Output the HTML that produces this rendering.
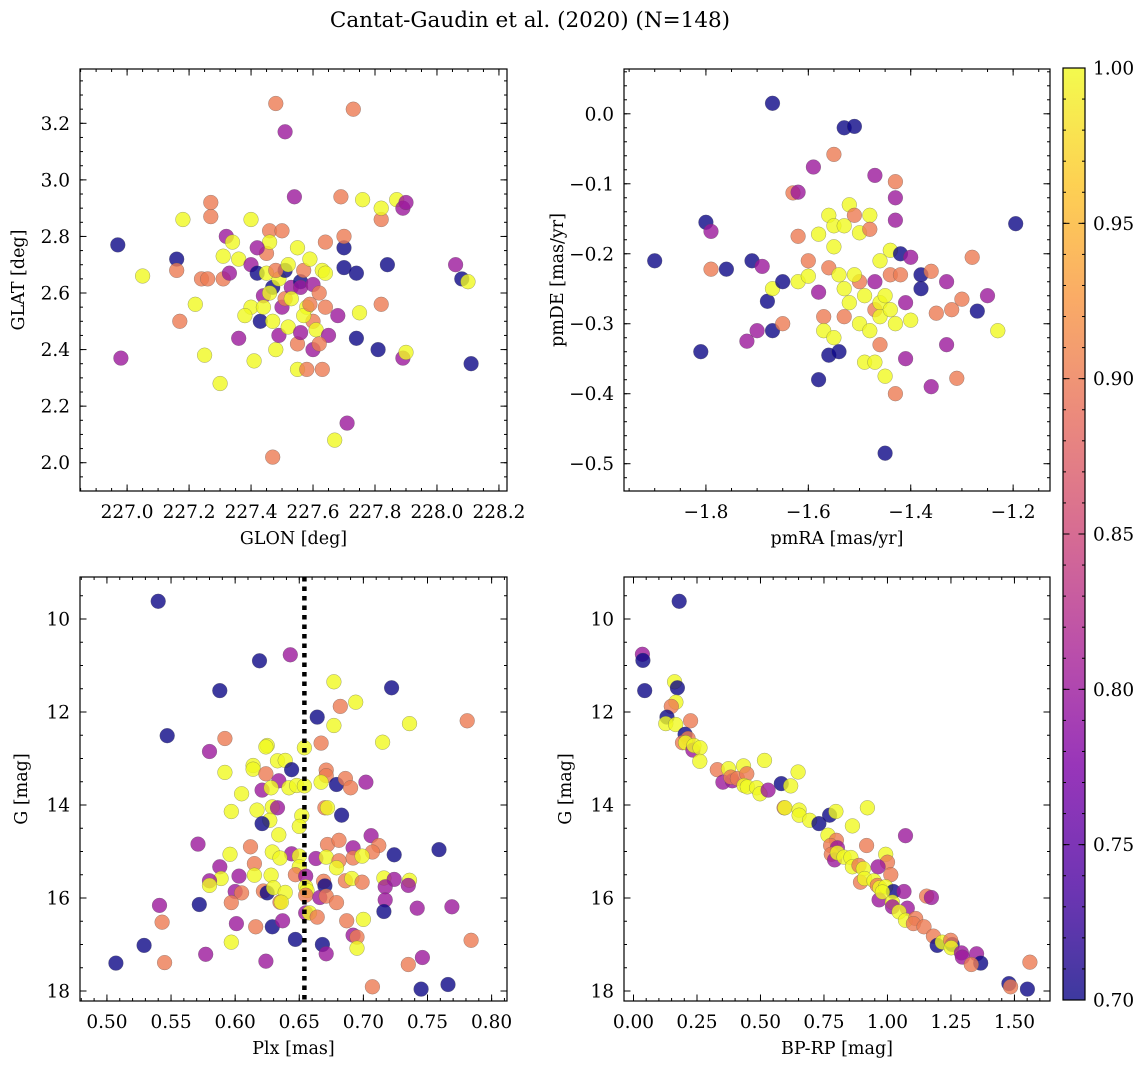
<!DOCTYPE html>
<html><head><meta charset="utf-8"><style>
body{margin:0;background:#fff;width:1148px;height:1068px;overflow:hidden}
svg{display:block;font-family:"DejaVu Serif","Liberation Serif",serif}
</style></head><body>
<svg id="chart" width="1148" height="1068" viewBox="0 0 1148 1068" xmlns="http://www.w3.org/2000/svg">
<text x="530" y="27" font-size="21.5" text-anchor="middle">Cantat-Gaudin et al. (2020) (N=148)</text>
</svg>
<script>
// ---------- data ----------
const p1x=[226.97,226.98,227.05,227.16,227.16,227.17,227.18,227.22,227.24,227.25,227.26,227.27,227.27,227.30,227.31,227.32,227.31,227.33,227.34,227.36,227.36,227.40,227.40,227.40,227.41,227.42,227.43,227.44,227.44,227.45,227.46,227.46,227.47,227.47,227.47,227.48,227.48,227.49,227.49,227.50,227.50,227.51,227.51,227.51,227.52,227.53,227.54,227.55,227.55,227.56,227.56,227.57,227.58,227.58,227.59,227.60,227.60,227.61,227.62,227.63,227.63,227.64,227.64,227.64,227.65,227.67,227.68,227.69,227.70,227.70,227.70,227.71,227.73,227.74,227.74,227.75,227.76,227.81,227.82,227.82,227.82,227.84,227.87,227.89,227.90,227.89,227.90,228.06,228.08,228.10,228.11,227.42,227.46,227.53,227.55,227.57,227.60,227.62,227.45,227.38,227.48,227.52,227.56,227.59];
const p1y=[2.77,2.37,2.66,2.72,2.68,2.50,2.86,2.56,2.65,2.38,2.65,2.87,2.92,2.28,2.73,2.80,2.65,2.67,2.78,2.44,2.72,2.86,2.70,2.55,2.36,2.67,2.50,2.59,2.55,2.74,2.82,2.78,2.62,2.50,2.02,3.27,2.40,2.65,2.45,2.82,2.55,3.17,2.68,2.58,2.48,2.62,2.94,2.33,2.76,2.64,2.62,2.68,2.55,2.33,2.72,2.63,2.50,2.47,2.60,2.33,2.68,2.78,2.67,2.55,2.45,2.08,2.52,2.94,2.76,2.69,2.80,2.14,3.25,2.67,2.44,2.53,2.93,2.40,2.86,2.56,2.90,2.70,2.93,2.90,2.92,2.37,2.39,2.70,2.65,2.64,2.35,2.76,2.60,2.58,2.42,2.52,2.40,2.42,2.67,2.52,2.68,2.70,2.46,2.56];
const p1c=[0.7,0.8,1,0.7,0.9,0.9,1,1,0.9,1,0.9,0.9,0.9,1,1,0.8,0.9,0.8,1,0.8,1,1,0.8,1,1,0.7,0.7,0.8,1,0.9,0.9,1,0.7,1,0.9,0.9,1,1,0.8,0.9,0.8,0.8,0.7,0.9,1,0.8,0.8,1,1,0.7,0.8,0.9,1,0.9,1,0.8,0.9,1,0.9,0.9,1,0.9,1,0.9,0.8,1,0.8,0.9,0.7,0.7,0.9,0.8,0.9,0.7,0.7,1,1,0.7,0.9,0.9,1,0.7,1,0.8,0.8,0.8,1,0.8,0.7,1,0.7,0.8,1,1,0.9,1,0.8,0.9,1,1,0.9,1,0.8,0.9];

const p2x=[-1.90,-1.81,-1.80,-1.79,-1.79,-1.76,-1.72,-1.70,-1.71,-1.69,-1.68,-1.67,-1.67,-1.67,-1.65,-1.65,-1.63,-1.62,-1.62,-1.62,-1.60,-1.60,-1.59,-1.58,-1.58,-1.58,-1.57,-1.57,-1.56,-1.56,-1.56,-1.55,-1.55,-1.55,-1.54,-1.53,-1.53,-1.52,-1.52,-1.51,-1.51,-1.50,-1.50,-1.50,-1.49,-1.48,-1.48,-1.47,-1.47,-1.47,-1.46,-1.46,-1.46,-1.45,-1.45,-1.44,-1.44,-1.43,-1.43,-1.43,-1.43,-1.43,-1.42,-1.42,-1.41,-1.41,-1.40,-1.40,-1.38,-1.38,-1.36,-1.36,-1.35,-1.33,-1.33,-1.32,-1.31,-1.30,-1.28,-1.27,-1.25,-1.23,-1.195,-1.54,-1.51,-1.49,-1.46,-1.44,-1.45,-1.53,-1.48,-1.47,-1.55,-1.53];
const p2y=[-0.21,-0.34,-0.155,-0.168,-0.222,-0.222,-0.325,-0.31,-0.21,-0.218,-0.268,-0.31,0.015,-0.25,-0.30,-0.24,-0.113,-0.112,-0.175,-0.24,-0.232,-0.21,-0.076,-0.38,-0.172,-0.255,-0.29,-0.31,-0.345,-0.22,-0.145,-0.058,-0.19,-0.32,-0.34,-0.02,-0.25,-0.13,-0.27,-0.018,-0.145,-0.17,-0.24,-0.30,-0.355,-0.145,-0.165,-0.28,-0.088,-0.355,-0.33,-0.27,-0.21,-0.485,-0.375,-0.23,-0.195,-0.30,-0.40,-0.152,-0.12,-0.097,-0.20,-0.23,-0.27,-0.35,-0.295,-0.205,-0.25,-0.23,-0.39,-0.225,-0.285,-0.24,-0.33,-0.28,-0.378,-0.265,-0.205,-0.282,-0.26,-0.31,-0.157,-0.23,-0.23,-0.26,-0.29,-0.28,-0.26,-0.29,-0.31,-0.24,-0.16,-0.16];
const p2c=[0.7,0.7,0.7,0.8,0.9,0.7,0.8,0.8,0.7,0.8,0.7,0.7,0.7,1,0.9,0.7,0.9,0.8,0.9,1,1,0.9,0.8,0.7,1,0.8,0.9,1,0.7,0.9,1,0.9,1,1,0.7,0.7,1,1,1,0.7,0.9,1,0.9,1,1,1,0.9,0.9,0.8,1,0.9,1,1,0.7,1,0.9,1,1,0.9,0.8,0.8,0.9,0.7,0.9,0.8,0.8,1,0.8,0.7,0.7,0.8,0.9,0.9,0.8,0.8,0.9,0.9,0.9,0.9,0.7,0.8,1,0.7,1,1,1,1,1,1,0.9,1,0.8,1,1];

const p3x=[0.540,0.643,0.619,0.588,0.722,0.677,0.694,0.682,0.664,0.677,0.736,0.781,0.547,0.592,0.715,0.667,0.580,0.625,0.624,0.654,0.633,0.639,0.614,0.614,0.592,0.644,0.624,0.671,0.671,0.634,0.667,0.679,0.686,0.690,0.702,0.621,0.628,0.642,0.648,0.654,0.605,0.597,0.617,0.629,0.633,0.670,0.672,0.683,0.627,0.621,0.652,0.650,0.634,0.571,0.612,0.629,0.644,0.650,0.635,0.596,0.672,0.681,0.706,0.712,0.707,0.692,0.692,0.699,0.724,0.759,0.663,0.671,0.681,0.679,0.615,0.588,0.650,0.647,0.655,0.628,0.615,0.603,0.589,0.580,0.580,0.669,0.670,0.686,0.691,0.699,0.716,0.724,0.717,0.736,0.735,0.600,0.605,0.622,0.625,0.630,0.639,0.655,0.656,0.655,0.666,0.671,0.679,0.717,0.716,0.635,0.636,0.597,0.572,0.541,0.543,0.601,0.616,0.629,0.637,0.655,0.658,0.664,0.687,0.700,0.742,0.769,0.784,0.647,0.668,0.692,0.695,0.695,0.671,0.597,0.577,0.529,0.507,0.545,0.624,0.735,0.746,0.707,0.745,0.766];
const p3y=[9.62,10.77,10.90,11.54,11.48,11.35,11.79,11.88,12.11,12.29,12.25,12.19,12.51,12.57,12.65,12.67,12.85,12.72,12.75,12.77,13.05,13.04,13.15,13.23,13.30,13.24,13.33,13.25,13.37,13.48,13.51,13.56,13.43,13.63,13.51,13.68,13.63,13.63,13.58,13.59,13.76,14.14,14.11,14.04,14.06,14.06,14.06,14.22,14.33,14.40,14.23,14.46,14.64,14.84,14.90,15.01,15.05,15.10,15.14,15.06,14.85,14.76,14.66,14.87,15.01,14.92,15.14,15.10,15.07,14.96,15.15,15.12,15.20,15.35,15.26,15.33,15.33,15.50,15.53,15.51,15.51,15.53,15.58,15.63,15.73,15.64,15.74,15.63,15.58,15.66,15.57,15.60,15.76,15.62,15.73,15.86,15.89,15.85,15.89,15.78,15.88,15.76,15.84,15.94,15.99,15.96,16.10,16.04,16.29,16.09,16.09,16.10,16.14,16.16,16.52,16.55,16.62,16.62,16.49,16.32,16.32,16.41,16.49,16.46,16.22,16.19,16.91,16.89,17.00,16.80,16.84,17.08,17.20,16.95,17.21,17.02,17.40,17.39,17.36,17.43,17.28,17.91,17.96,17.86];
const p3c=[0.7,0.8,0.7,0.7,0.7,1,1,0.9,0.7,1,1,0.9,0.7,0.9,1,0.9,0.8,1,1,1,1,1,1,1,1,0.7,0.9,0.9,0.9,0.8,1,0.7,0.9,0.9,0.8,0.8,1,1,1,1,1,1,1,1,0.8,0.9,1,0.7,1,0.7,1,1,1,0.8,0.9,1,0.8,1,1,1,0.9,0.9,0.8,0.9,0.9,0.8,0.9,1,0.7,0.7,0.8,1,0.9,1,0.9,0.8,1,0.9,0.8,1,1,0.8,1,0.8,1,0.9,0.7,0.9,1,0.9,1,0.8,0.8,1,0.8,0.8,0.9,0.9,0.7,1,1,1,1,0.9,0.8,0.9,0.9,0.8,0.7,0.9,1,0.9,0.7,0.8,0.9,0.8,0.9,0.7,0.8,0.8,1,0.9,0.9,1,0.8,0.8,0.9,0.7,0.7,0.8,0.9,1,0.8,1,0.8,0.7,0.7,0.9,0.8,0.9,0.8,0.9,0.7,0.7];

const p4x=[0.180,0.035,0.037,0.044,0.162,0.173,0.167,0.149,0.132,0.127,0.166,0.225,0.203,0.215,0.193,0.205,0.234,0.238,0.262,0.261,0.330,0.374,0.352,0.389,0.383,0.409,0.433,0.446,0.435,0.448,0.485,0.498,0.530,0.516,0.582,0.619,0.648,0.593,0.596,0.652,0.652,0.694,0.730,0.772,0.797,0.921,0.862,0.766,0.799,1.071,0.776,0.803,0.779,0.792,0.803,0.829,0.856,0.918,0.993,1.000,0.963,1.013,0.862,0.888,0.905,0.894,0.910,0.947,0.960,0.970,0.993,1.023,1.065,0.967,0.980,1.019,1.020,1.078,1.046,1.071,1.111,1.102,1.144,1.154,1.173,1.181,1.196,1.216,1.255,1.249,1.251,1.291,1.295,1.351,1.367,1.330,1.561,1.478,1.485,1.551];
const p4y=[9.62,10.76,10.89,11.54,11.35,11.48,11.79,11.88,12.11,12.25,12.27,12.19,12.48,12.57,12.66,12.66,12.82,12.72,12.77,13.06,13.24,13.22,13.51,13.48,13.40,13.43,13.16,13.33,13.58,13.61,13.63,13.76,13.68,13.04,13.54,13.59,13.29,14.06,14.06,14.11,14.22,14.33,14.40,14.22,14.14,14.06,14.45,14.65,14.76,14.66,14.87,14.92,15.06,15.18,15.03,15.12,15.13,14.87,15.06,15.23,15.33,15.50,15.33,15.30,15.37,15.66,15.58,15.63,15.73,15.78,15.76,15.86,15.86,16.04,15.87,16.09,16.19,16.22,16.30,16.48,16.44,16.55,16.62,15.96,15.99,16.82,17.02,16.95,17.00,16.91,17.07,17.18,17.27,17.20,17.40,17.43,17.38,17.84,17.91,17.96];
const p4c=[0.7,0.8,0.7,0.7,1,0.7,1,0.9,0.7,1,1,0.9,0.7,0.9,0.9,1,0.8,1,1,1,0.9,1,0.8,0.8,0.9,0.9,1,0.9,1,1,1,1,0.8,1,0.7,1,1,0.9,1,1,1,1,0.7,0.7,1,1,1,1,0.9,0.8,0.9,0.8,0.9,0.8,1,1,1,0.9,1,0.9,0.8,0.9,1,0.9,1,0.9,1,1,0.9,1,1,0.7,0.8,0.8,1,1,0.8,0.8,1,1,0.9,0.9,0.9,0.9,0.8,0.9,0.7,1,0.7,0.9,1,0.8,0.8,0.8,0.7,0.9,0.9,0.7,0.9,0.7];

const cbTicks=[0.70,0.75,0.80,0.85,0.90,0.95,1.00];

// ---------- helpers ----------
const NS="http://www.w3.org/2000/svg";
const svg=document.getElementById('chart');
function el(tag,attrs,parent){const e=document.createElementNS(NS,tag);for(const k in attrs)e.setAttribute(k,attrs[k]);(parent||svg).appendChild(e);return e;}
const stops=["#0d0887","#4c02a1","#7e03a8","#a92395","#cc4778","#e66c5c","#f89540","#fdc527","#f0f921"].map(h=>[1,3,5].map(i=>parseInt(h.substr(i,2),16)));
function plasma(t){t=Math.max(0,Math.min(1,t));const f=t*8,i=Math.min(7,Math.floor(f)),r=f-i;const c=stops[i].map((v,k)=>Math.round(v+(stops[i+1][k]-v)*r));return `rgb(${c.join(',')})`;}
function pc(p){return plasma((p-0.7)/0.3);}
const TFS=18.5, AFS=17.5;

function panel(name,box,xd,yd,xt,xmin,yt,ymin,xfmt,yfmt,xl,yl,xs,ys,cs){
  const [L,T,R,B]=box;
  const g=el('g',{});
  
  
  const sx=v=>L+(v-xd[0])/(xd[1]-xd[0])*(R-L);
  const sy=v=>T+(yd[1]-v)/(yd[1]-yd[0])*(B-T);
  const clip=el('clipPath',{id:'c'+name},g);el('rect',{x:L,y:T,width:R-L,height:B-T},clip);
  const pts=el('g',{'clip-path':`url(#c${name})`},g);
  
  
  for(let i=0;i<xs.length;i++){
    const c=el('circle',{cx:sx(xs[i]).toFixed(1),cy:sy(ys[i]).toFixed(1),r:7.4,fill:pc(cs[i]),'fill-opacity':0.8,stroke:'#555','stroke-width':0.45,'stroke-opacity':0.6},pts);
    
    
  }
  const tk=el('g',{stroke:'#000','stroke-width':1},g);
  const eps=1e-9;
  for(let v=Math.ceil(xd[0]/xmin-eps)*xmin;v<=xd[1]+eps;v+=xmin){const x=sx(v);el('line',{x1:x,y1:B,x2:x,y2:B-3},tk);el('line',{x1:x,y1:T,x2:x,y2:T+3},tk);}
  for(let v=Math.ceil(yd[0]/ymin-eps)*ymin;v<=yd[1]+eps;v+=ymin){const y=sy(v);el('line',{x1:L,y1:y,x2:L+3,y2:y},tk);el('line',{x1:R,y1:y,x2:R-3,y2:y},tk);}
  xt.forEach(v=>{const x=sx(v);el('line',{x1:x,y1:B,x2:x,y2:B-6.5},tk);el('line',{x1:x,y1:T,x2:x,y2:T+6.5},tk);
    const t=el('text',{x:x,y:B+27,'font-size':TFS,'text-anchor':'middle'},g);t.textContent=xfmt(v);
    });
  yt.forEach(v=>{const y=sy(v);el('line',{x1:L,y1:y,x2:L+6.5,y2:y},tk);el('line',{x1:R,y1:y,x2:R-6.5,y2:y},tk);
    const t=el('text',{x:L-10,y:y+6.5,'font-size':TFS,'text-anchor':'end'},g);t.textContent=yfmt(v);
    });
  el('rect',{x:L,y:T,width:R-L,height:B-T,fill:'none',stroke:'#000','stroke-width':1.2},g);
  const a=el('text',{x:(L+R)/2,y:B+53,'font-size':AFS,'text-anchor':'middle'},g);a.textContent=xl;
  
  const b=el('text',{transform:`translate(${yl[1]},${(T+B)/2}) rotate(-90)`,'font-size':AFS,'text-anchor':'middle'},g);b.textContent=yl[0];
  
  return {sx,sy,g};
}
const minus=s=>s.replace('-','\u2212');
panel('glon-glat-panel',[80,69,507,491],[226.848,228.226],[1.900,3.392],[227,227.2,227.4,227.6,227.8,228,228.2],0.05,[2.0,2.2,2.4,2.6,2.8,3.0,3.2],0.05,v=>v.toFixed(1),v=>v.toFixed(1),'GLON [deg]',['GLAT [deg]',24],p1x,p1y,p1c);
panel('proper-motion-panel',[624,69,1050,491],[-1.960,-1.128],[-0.539,0.064],[-1.8,-1.6,-1.4,-1.2],0.05,[-0.5,-0.4,-0.3,-0.2,-0.1,0.0],0.02,v=>minus(v.toFixed(1)),v=>minus(v.toFixed(1)),'pmRA [mas/yr]',['pmDE [mas/yr]',563],p2x,p2y,p2c);
const P3=panel('parallax-mag-panel',[80,577,507,1001],[0.479,0.812],[-18.215,-9.097],[0.5,0.55,0.6,0.65,0.7,0.75,0.8],0.01,[-18,-16,-14,-12,-10],0.5,v=>v.toFixed(2),v=>String(-v),'Plx [mas]',['G [mag]',27],p3x,p3y.map(v=>-v),p3c);
panel('cmd-panel',[624,577,1050,1001],[-0.0374,1.640],[-18.215,-9.097],[0,0.25,0.5,0.75,1.0,1.25,1.5],0.05,[-18,-16,-14,-12,-10],0.5,v=>v.toFixed(2),v=>String(-v),'BP-RP [mag]',['G [mag]',571],p4x,p4y.map(v=>-v),p4c);

const plxMean=0.654;
const ln=el('line',{x1:P3.sx(plxMean),y1:577,x2:P3.sx(plxMean),y2:1001,stroke:'#000','stroke-width':4.5,'stroke-dasharray':'4.5 5'});



const cb=el('g',{});


const defs=el('defs',{},cb);
const gr=el('linearGradient',{id:'cbg',x1:0,y1:1,x2:0,y2:0},defs);
for(let i=0;i<=16;i++){el('stop',{offset:i/16,'stop-color':plasma(i/16),'stop-opacity':0.8},gr);}
const cT=68,cB=1000,cL=1063,cR=1085;
el('rect',{x:cL,y:cT,width:cR-cL,height:cB-cT,fill:'url(#cbg)'},cb);
el('rect',{x:cL,y:cT,width:cR-cL,height:cB-cT,fill:'none',stroke:'#000','stroke-width':1.2},cb);
const cy=v=>cB-(v-0.7)/0.3*(cB-cT);
for(let k=0;k<=30;k++){const v=0.7+k*0.01,y=cy(v);el('line',{x1:cR,y1:y,x2:cR-3,y2:y,stroke:'#000'},cb);el('line',{x1:cL,y1:y,x2:cL+3,y2:y,stroke:'#000'},cb);}
cbTicks.forEach(v=>{const y=cy(v);el('line',{x1:cR,y1:y,x2:cR-6.5,y2:y,stroke:'#000'},cb);el('line',{x1:cL,y1:y,x2:cL+6.5,y2:y,stroke:'#000'},cb);
  const t=el('text',{x:1093,y:y+6.5,'font-size':TFS},cb);t.textContent=v.toFixed(2);
  });
</script>
</body></html>
